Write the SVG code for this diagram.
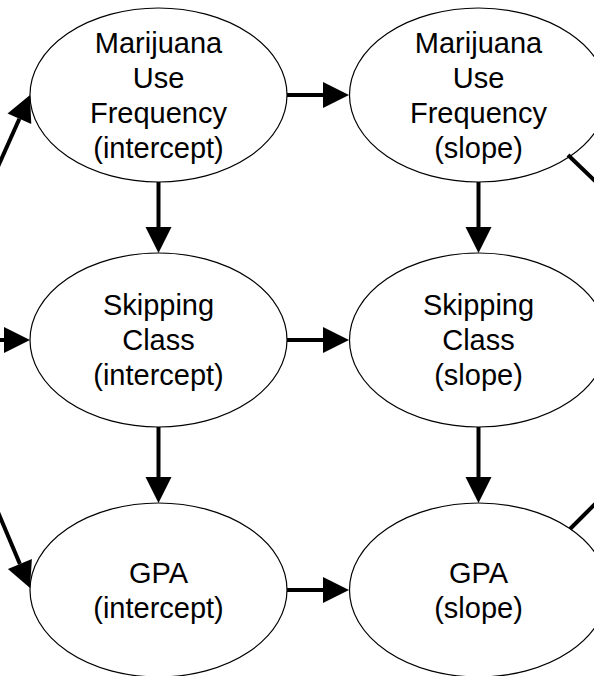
<svg xmlns="http://www.w3.org/2000/svg" width="594" height="676" viewBox="0 0 594 676">
<style>
.node ellipse{fill:#fff;stroke:#000;stroke-width:1.2}
.node text{font-family:"Liberation Sans",Arial,sans-serif;font-size:29px;fill:#000;text-anchor:middle}
.edges line{stroke:#000;stroke-width:4}
.edges .arr{marker-end:url(#ah)}
</style>
<defs>
<marker id="ah" markerUnits="userSpaceOnUse" markerWidth="26" markerHeight="26" refX="0" refY="13" orient="auto" overflow="visible">
<path d="M0,0 L26,13 L0,26 z" fill="#000"/>
</marker>
</defs>
<rect width="594" height="676" fill="#fff"/>
<g id="nodes">
<g id="mj_int" class="node"><ellipse cx="158.5" cy="95" rx="128.5" ry="87"/>
<text x="158.5" y="53">Marijuana</text><text x="158.5" y="88">Use</text><text x="158.5" y="123">Frequency</text><text x="158.5" y="158">(intercept)</text></g>
<g id="mj_slope" class="node"><ellipse cx="478.5" cy="95" rx="129" ry="87"/>
<text x="478.5" y="53">Marijuana</text><text x="478.5" y="88">Use</text><text x="478.5" y="123">Frequency</text><text x="478.5" y="158">(slope)</text></g>
<g id="sk_int" class="node"><ellipse cx="158.5" cy="340" rx="128.5" ry="87"/>
<text x="158.5" y="315">Skipping</text><text x="158.5" y="350">Class</text><text x="158.5" y="385">(intercept)</text></g>
<g id="sk_slope" class="node"><ellipse cx="478.5" cy="340" rx="129" ry="87"/>
<text x="478.5" y="315">Skipping</text><text x="478.5" y="350">Class</text><text x="478.5" y="385">(slope)</text></g>
<g id="gpa_int" class="node"><ellipse cx="158.5" cy="590" rx="128.5" ry="87"/>
<text x="158.5" y="583">GPA</text><text x="158.5" y="618">(intercept)</text></g>
<g id="gpa_slope" class="node"><ellipse cx="478.5" cy="590" rx="129" ry="87"/>
<text x="478.5" y="583">GPA</text><text x="478.5" y="618">(slope)</text></g>
</g>
<g id="connectors" class="edges">
<line class="arr" x1="287" y1="95" x2="323" y2="95"/>
<line class="arr" x1="287" y1="340" x2="323" y2="340"/>
<line class="arr" x1="287" y1="590" x2="323" y2="590"/>
<line class="arr" x1="158.5" y1="182" x2="158.5" y2="227"/>
<line class="arr" x1="158.5" y1="427" x2="158.5" y2="477"/>
<line class="arr" x1="478.5" y1="182" x2="478.5" y2="227"/>
<line class="arr" x1="478.5" y1="427" x2="478.5" y2="477"/>
<line class="arr" x1="-10" y1="340" x2="4" y2="340"/>
<line class="arr" x1="-20" y1="207" x2="19.4" y2="118.7"/>
<line class="arr" x1="-20" y1="469.5" x2="19.9" y2="564"/>
<line x1="568" y1="155" x2="620" y2="205"/>
<line x1="570" y1="529" x2="620" y2="479"/>
</g>
</svg>
